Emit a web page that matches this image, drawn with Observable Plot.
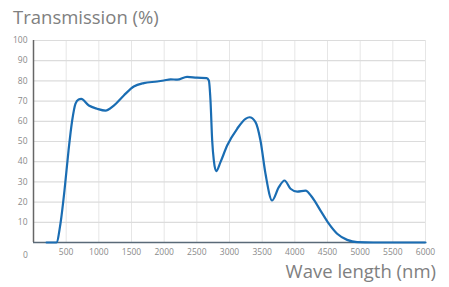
<!DOCTYPE html>
<html><head><meta charset="utf-8">
<script src="https://cdn.jsdelivr.net/npm/d3@7"></script>
<script src="https://cdn.jsdelivr.net/npm/@observablehq/plot@0.6"></script>
<style>
body{margin:0;background:#fff;font-family:"Open Sans",sans-serif;}
#wrap{position:relative;width:449px;height:287px;}
.t{position:absolute;color:#808080;font-size:18.5px;white-space:nowrap;}
</style></head><body>
<div id="wrap"></div>
<script>
const wavelength = [200,350,413,474,536,592,643,690,730,847,975,1102,1229,1382,1535,1688,1893,1994,2100,2200,2350,2500,2650,2684,2709,2735,2760,2796,2862,2964,3117,3245,3306,3398,3474,3551,3653,3755,3842,3934,4036,4163,4265,4393,4520,4648,4801,4954,5200,6000];
const transmission = [0,0,9.4,25.7,45.5,60.4,68.8,70.8,71.1,67.8,66.2,65.3,67.8,72.8,77.2,78.9,79.7,80.2,80.8,80.6,82,81.6,81.4,80.2,70.3,50.5,40.6,35.3,39.8,48,56.3,61.2,62,59.6,50.5,34,20.8,27.4,30.7,26.6,25.2,25.7,22.4,15.8,9.3,4.3,1.3,0.15,0,0];
const xTicks = [500,1000,1500,2000,2500,3000,3500,4000,4500,5000,5500,6000];
const yTicks = [10,20,30,40,50,60,70,80,90,100];
const gridX = [500,1000,1500,2000,2500,3000,3500,4000,4500,5000,5500,6000];
const titleText = "Transmission (%)";
const xLabelText = "Wave length (nm)";

const data = wavelength.map((w,i)=>({w, t: transmission[i]}));

const chart = Plot.plot({
  width: 449, height: 287,
  marginTop: 40, marginLeft: 33, marginRight: 24, marginBottom: 45,
  x: {domain: [0,6000]},
  y: {domain: [0,100]},
  style: {fontFamily: "Open Sans, sans-serif", fontSize: "8px", color: "#888"},
  marks: [
    Plot.gridX(gridX, {stroke: "#e6e6e6", strokeOpacity: 1, strokeWidth: 1}),
    Plot.gridY(yTicks, {stroke: "#dcdcdc", strokeOpacity: 1, strokeWidth: 1.2}),
    Plot.axisX(xTicks, {tickSize: 0, tickPadding: 6, fill: "#8a8a8a", label: null, fontSize: 8.5, tickFormat: d=>String(d)}),
    Plot.axisY(yTicks, {tickSize: 0, tickPadding: 6, fill: "#8a8a8a", label: null, fontSize: 8.5, tickFormat: d=>String(d)}),
    Plot.text([0], {x: d=>d, frameAnchor: "bottom", dy: 15, dx: -8, text: d=>String(d), fill: "#8a8a8a", fontSize: 8.5}),
    Plot.ruleX([0], {stroke: "#666", strokeWidth: 1.5}),
    Plot.ruleY([0], {stroke: "#5a6a78", strokeWidth: 1.5}),
    Plot.line(data, {x: "w", y: "t", stroke: "#1a6db3", strokeWidth: 2.2, curve: "monotone-x"})
  ]
});
const wrap = document.getElementById("wrap");
wrap.appendChild(chart);
const t1 = document.createElement("div");
t1.className = "t"; t1.textContent = titleText;
t1.style.left = "13px"; t1.style.top = "4px";
wrap.appendChild(t1);
const t2 = document.createElement("div");
t2.className = "t"; t2.textContent = xLabelText;
t2.style.right = "13px"; t2.style.top = "258px";
wrap.appendChild(t2);
</script>
</body></html>
